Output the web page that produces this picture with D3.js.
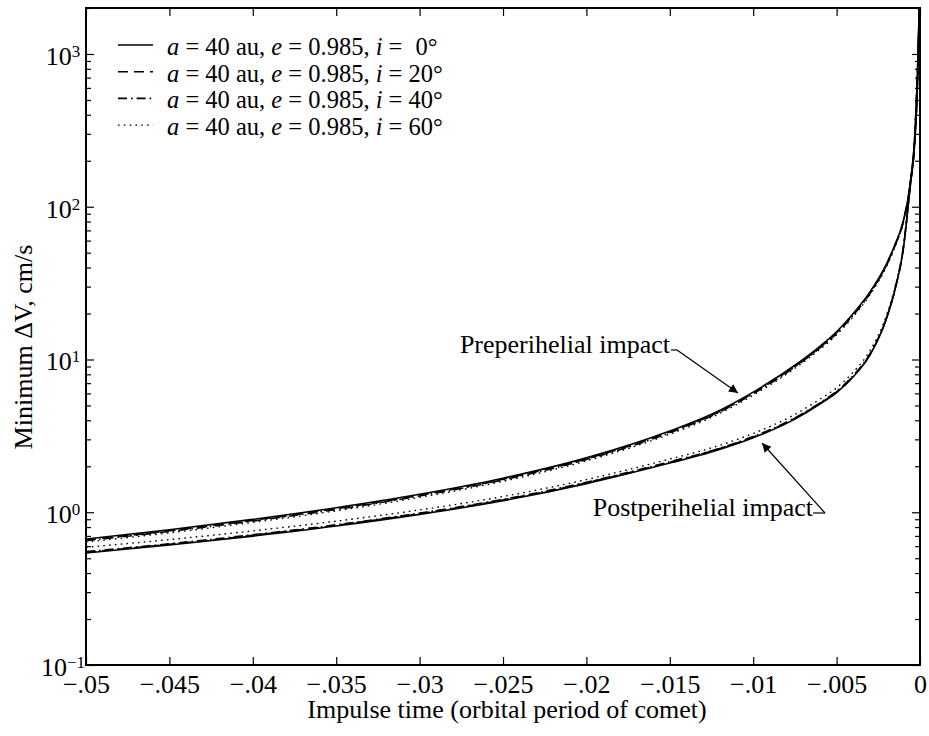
<!DOCTYPE html>
<html>
<head>
<meta charset="utf-8">
<script src="https://cdn.jsdelivr.net/npm/d3@7"></script>
<style>
  html, body { margin: 0; padding: 0; background: #fff; }
  svg { display: block; }
  text { font-family: "Liberation Serif", "DejaVu Serif", serif; fill: #000; }
</style>
</head>
<body>
<svg id="chart" width="929" height="736"></svg>
<script>
// ---------------- DATA ----------------
const impulseTime = [-0.05, -0.045, -0.04, -0.035, -0.03, -0.025, -0.02, -0.015, -0.0125, -0.01, -0.0075, -0.006,
  -0.005, -0.004, -0.003, -0.002, -0.0015, -0.001, -0.0006, -0.0003, -0.00018, -0.0001, -0.00003];

// Preperihelial impact
const pre_i0  = [0.668, 0.768, 0.898, 1.07, 1.31, 1.67, 2.27, 3.40, 4.38, 6.12, 9.17, 12.2, 15.2, 20.0, 27.7, 42.5, 56.6, 81, 139, 310, 620, 1150, 2500];
const pre_i20 = [0.658, 0.756, 0.885, 1.054, 1.29, 1.645, 2.236, 3.35, 4.31, 6.03, 9.03, 12.0, 15.0, 19.7, 27.3, 41.9, 55.9, 80.2, 138, 309, 619, 1150, 2500];
const pre_i40 = [0.651, 0.749, 0.876, 1.043, 1.277, 1.628, 2.213, 3.315, 4.27, 5.97, 8.94, 11.9, 14.82, 19.5, 27.0, 41.5, 55.4, 79.6, 137.5, 308, 618, 1150, 2500];
const pre_i60 = [0.638, 0.733, 0.858, 1.022, 1.251, 1.595, 2.168, 3.247, 4.18, 5.84, 8.76, 11.65, 14.52, 19.1, 26.5, 40.8, 54.6, 78.7, 136.5, 307, 617, 1150, 2500];

// Postperihelial impact
const post_i0  = [0.541, 0.61, 0.698, 0.812, 0.968, 1.19, 1.54, 2.10, 2.48, 3.07, 4.07, 5.11, 6.07, 7.72, 10.7, 18.6, 28.5, 53, 132, 280, 520, 1000, 2500];
const post_i20 = [0.548, 0.617, 0.706, 0.822, 0.98, 1.204, 1.558, 2.125, 2.51, 3.107, 4.12, 5.17, 6.14, 7.81, 10.83, 18.8, 28.8, 53.5, 133, 281, 521, 1000, 2500];
const post_i40 = [0.552, 0.622, 0.712, 0.828, 0.987, 1.214, 1.571, 2.142, 2.53, 3.131, 4.15, 5.21, 6.19, 7.87, 10.9, 18.95, 29.0, 53.8, 133.5, 282, 522, 1000, 2500];
const post_i60 = [0.59, 0.662, 0.755, 0.874, 1.036, 1.268, 1.636, 2.23, 2.64, 3.28, 4.37, 5.5, 6.53, 8.28, 11.4, 19.6, 29.8, 55, 135, 284, 524, 1000, 2500];

const inclinations = [0, 20, 40, 60];
const semiMajorAxis = "40";
const eccentricity = "0.985";

const xTicks = [-0.05, -0.045, -0.04, -0.035, -0.03, -0.025, -0.02, -0.015, -0.01, -0.005, 0];
const xTickLabels = ["\u2212.05", "\u2212.045", "\u2212.04", "\u2212.035", "\u2212.03", "\u2212.025",
  "\u2212.02", "\u2212.015", "\u2212.01", "\u2212.005", "0"];
const yTicks = [0.1, 1, 10, 100, 1000];
const yTickExponents = ["\u22121", "0", "1", "2", "3"];

const xTitle = "Impulse time (orbital period of comet)";
const yTitle = "Minimum \u0394V, cm/s";
const annotations = ["Preperihelial impact", "Postperihelial impact"];

// ---------------- STYLES / LAYOUT ----------------
const dashes = [null, "10,6", "9,4,1.6,4", "1.6,4.2"];
const L = 86, R = 920, T = 8, B = 665;

const svg = d3.select("#chart");
const x = d3.scaleLinear().domain([-0.05, 0]).range([L, R]);
const y = d3.scaleLog().domain([0.1, 2000]).range([B, T]);

const defs = svg.append("defs");
defs.append("clipPath").attr("id", "clip")
  .append("rect").attr("x", L).attr("y", T).attr("width", R - L).attr("height", B - T);
defs.append("marker")
  .attr("id", "arrow").attr("viewBox", "0 0 10 10").attr("refX", 10).attr("refY", 5)
  .attr("markerWidth", 14).attr("markerHeight", 9).attr("markerUnits", "userSpaceOnUse")
  .attr("orient", "auto")
  .append("path").attr("d", "M0,0 L10,5 L0,10 Z").attr("fill", "#000");

// ---------------- CURVES ----------------
const preSeries = [pre_i0, pre_i20, pre_i40, pre_i60];
const postSeries = [post_i0, post_i20, post_i40, post_i60];
const line = d3.line().x(d => x(d[0])).y(d => y(d[1])).curve(d3.curveMonotoneX);
const curves = svg.append("g").attr("clip-path", "url(#clip)");
[preSeries, postSeries].forEach(group => {
  group.forEach((vals, k) => {
    curves.append("path")
      .attr("d", line(impulseTime.map((t, j) => [t, vals[j]])))
      .attr("fill", "none").attr("stroke", "#000")
      .attr("stroke-width", k === 3 ? 1.4 : 1.6)
      .attr("stroke-dasharray", dashes[k]);
  });
});

// ---------------- AXES ----------------
const fs = 26;
const minor = [];
yTicks.forEach(d => { for (let k = 2; k <= 9; k++) { const v = d * k; if (v <= 2000) minor.push(v); } });

function styleAxis(g) {
  g.select(".domain").remove();
  g.selectAll(".tick line").attr("stroke", "#000").attr("stroke-width", 1.2);
}

const xb = svg.append("g").attr("transform", `translate(0,${B})`)
  .call(d3.axisBottom(x).tickValues(xTicks).tickFormat((d, i) => xTickLabels[i])
    .tickSizeInner(-8).tickSizeOuter(0).tickPadding(10));
styleAxis(xb);
xb.selectAll(".tick text").attr("font-size", fs).attr("font-family", "Liberation Serif, serif");

const xt = svg.append("g").attr("transform", `translate(0,${T})`)
  .call(d3.axisTop(x).tickValues(xTicks).tickFormat("").tickSizeInner(-8).tickSizeOuter(0));
styleAxis(xt);

[[d3.axisLeft, L], [d3.axisRight, R]].forEach(([ax, pos]) => {
  const gM = svg.append("g").attr("transform", `translate(${pos},0)`)
    .call(ax(y).tickValues(yTicks).tickFormat("").tickSizeInner(-8).tickSizeOuter(0));
  styleAxis(gM);
  const gm = svg.append("g").attr("transform", `translate(${pos},0)`)
    .call(ax(y).tickValues(minor).tickFormat("").tickSizeInner(-5).tickSizeOuter(0));
  styleAxis(gm);
});

// y tick labels with superscript
const ylab = svg.append("g");
yTicks.forEach((d, i) => {
  const t = ylab.append("text").attr("x", 63).attr("y", y(d) + 11)
    .attr("text-anchor", "middle").attr("font-size", fs);
  t.append("tspan").text("10");
  t.append("tspan").attr("font-size", 17).attr("dy", -8).text(yTickExponents[i]);
});

// frame
svg.append("rect").attr("x", L).attr("y", T).attr("width", R - L).attr("height", B - T)
  .attr("fill", "none").attr("stroke", "#000").attr("stroke-width", 2);

// titles
svg.append("text").attr("x", (L + R) / 2 + 4).attr("y", 718).attr("text-anchor", "middle")
  .attr("font-size", fs).text(xTitle);
svg.append("text").attr("transform", `translate(32,347) rotate(-90)`).attr("text-anchor", "middle")
  .attr("font-size", fs).text(yTitle);

// ---------------- LEGEND ----------------
const lfs = 24.5;
const leg = svg.append("g");
inclinations.forEach((inc, k) => {
  const base = 55 + k * 26.7;
  leg.append("line").attr("x1", 118).attr("x2", 153).attr("y1", base - 10).attr("y2", base - 10)
    .attr("stroke", "#000").attr("stroke-width", k === 3 ? 1.4 : 1.6).attr("stroke-dasharray", dashes[k]);
  const t = leg.append("text").attr("x", 167).attr("y", base).attr("font-size", lfs);
  t.append("tspan").attr("font-style", "italic").text("a");
  t.append("tspan").text(` = ${semiMajorAxis} au, `);
  t.append("tspan").attr("font-style", "italic").text("e");
  t.append("tspan").text(` = ${eccentricity}, `);
  t.append("tspan").attr("font-style", "italic").text("i");
  t.append("tspan").text(" = ");
  t.append("tspan").attr("dx", inc < 10 ? 7 : 0).text(`${inc}\u00B0`);
});

// ---------------- ANNOTATIONS ----------------
const ann = svg.append("g");
ann.append("text").attr("x", 670).attr("y", 353).attr("text-anchor", "end").attr("font-size", fs).text(annotations[0]);
ann.append("path").attr("d", "M671,350 L677,350").attr("stroke", "#000").attr("stroke-width", 1.2);
ann.append("line").attr("x1", 677).attr("y1", 350).attr("x2", 738).attr("y2", 393)
  .attr("stroke", "#000").attr("stroke-width", 1.2).attr("marker-end", "url(#arrow)");

ann.append("text").attr("x", 813).attr("y", 516).attr("text-anchor", "end").attr("font-size", fs).text(annotations[1]);
ann.append("path").attr("d", "M813,513 L825,513").attr("stroke", "#000").attr("stroke-width", 1.2);
ann.append("line").attr("x1", 825).attr("y1", 513).attr("x2", 762).attr("y2", 443)
  .attr("stroke", "#000").attr("stroke-width", 1.2).attr("marker-end", "url(#arrow)");
</script>
</body>
</html>
